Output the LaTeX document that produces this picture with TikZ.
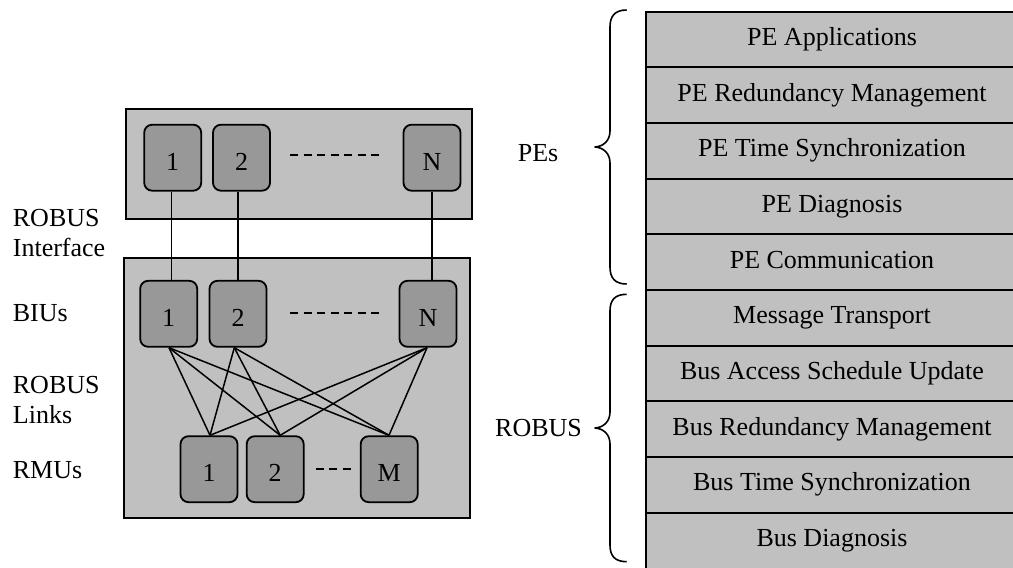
\documentclass[tikz,border=0pt]{standalone}
\usepackage{fontspec}
\setmainfont{Liberation Serif}
\definecolor{panel}{RGB}{192,192,192}
\definecolor{unit}{RGB}{152,152,152}
\begin{document}
\begin{tikzpicture}[x=1pt,y=-1pt,
  every node/.style={font=\fontsize{26}{30}\selectfont},
  panelbox/.style={draw=black,line width=2pt,fill=panel},
  unitbox/.style={draw=black,line width=1.8pt,fill=unit,rounded corners=8pt,
    minimum width=57pt,minimum height=66pt,inner sep=0pt,
    text height=24.6pt,text depth=0pt},
  link/.style={line width=1.5pt},
  gap/.style={line width=1.4pt,dash pattern=on 8pt off 5.5pt},
  layer/.style={draw=black,line width=2pt,fill=panel,minimum width=372pt,
    minimum height=55.7pt,inner sep=0pt,text height=18pt,text depth=6pt,anchor=north west},
  label/.style={inner sep=0pt,align=left},
  bracepath/.style={line width=1.6pt,line join=round}]
\useasboundingbox (0,0) rectangle (1013,568);

% processing element panel
\draw[panelbox] (126,109) rectangle (472,219.3);
\node[unitbox] (pe1) at (172.7,157.7) {1};
\node[unitbox] (pe2) at (241.5,157.7) {2};
\node[unitbox] (peN) at (432,157.7) {N};
\coordinate (peg1) at (290,155);
\coordinate (peg2) at (382,155);
\draw[gap] (peg1) -- (peg2);

% bus panel with interface units and redundancy management units
\draw[panelbox] (124,258.3) rectangle (470,518.3);
\node[unitbox] (biu1) at (168.7,313.8) {1};
\node[unitbox] (biu2) at (238,313.8) {2};
\node[unitbox] (biuN) at (428,313.8) {N};
\coordinate (bg1) at (290,313);
\coordinate (bg2) at (382,313);
\draw[gap] (bg1) -- (bg2);

\node[unitbox] (rmu1) at (209,469.2) {1};
\node[unitbox] (rmu2) at (275.2,469.2) {2};
\node[unitbox] (rmuM) at (389.2,469.2) {M};
\coordinate (rg1) at (315.7,469);
\coordinate (rg2) at (351,469);
\draw[gap] (rg1) -- (rg2);

% interface lines
\draw[link] ([xshift=-1pt]pe1.south) -- ([xshift=-1pt]pe1.south |- biu1.north);
\draw[link] ([xshift=-3.5pt]pe2.south) -- ([xshift=-3.5pt]pe2.south |- biu2.north);
\draw[link] (peN.south) -- (peN.south |- biuN.north);

% bus links between interface units and management units
\coordinate (b1) at ([xshift=0.3pt]biu1.south);
\coordinate (b2) at ([xshift=-3.7pt]biu2.south);
\coordinate (bN) at ([xshift=-1pt]biuN.south);
\coordinate (r1) at ([xshift=1pt]rmu1.north);
\coordinate (r2) at ([xshift=5pt]rmu2.north);
\coordinate (rM) at ([xshift=-0.2pt]rmuM.north);
\foreach \b in {b1,b2,bN}
  \foreach \r in {r1,r2,rM}
    \draw[link] (\b) -- (\r);

% left-hand labels
\node[label,anchor=north west] (lif) at (12.7,209) {ROBUS\\Interface};
\node[label,anchor=base west] (lbiu) at (12.7,321.7) {BIUs};
\node[label,anchor=north west] (llk) at (12.7,375.8) {ROBUS\\Links};
\node[label,anchor=base west] (lrmu) at (12.7,478.3) {RMUs};

% layered services
\node[layer] (l1) at (645,10.5) {PE Applications};
\node[layer] (l2) at (645,66.2) {PE Redundancy Management};
\node[layer] (l3) at (645,121.9) {PE Time Synchronization};
\node[layer] (l4) at (645,177.6) {PE Diagnosis};
\node[layer] (l5) at (645,233.3) {PE Communication};
\node[layer] (l6) at (645,289) {Message Transport};
\node[layer] (l7) at (645,344.7) {Bus Access Schedule Update};
\node[layer] (l8) at (645,400.4) {Bus Redundancy Management};
\node[layer] (l9) at (645,456.1) {Bus Time Synchronization};
\node[layer] (l10) at (645,511.8) {Bus Diagnosis};

% group braces and their labels
\draw[bracepath] (626.7,10) .. controls (615,10) and (610,16) .. (610,27)
  -- (610,131) .. controls (610,141) and (603,146.5) .. (595,147)
  .. controls (603,147.5) and (610,153) .. (610,163)
  -- (610,267) .. controls (610,278) and (615,284) .. (626.7,284);
\draw[bracepath] (626.7,294.3) .. controls (615,294.3) and (610,300) .. (610,311)
  -- (610,412) .. controls (610,422) and (603,427.5) .. (595,428)
  .. controls (603,428.5) and (610,434) .. (610,444)
  -- (610,545) .. controls (610,556) and (615,561.7) .. (626.7,561.7);
\node[label,anchor=base west] (lpe) at (517.7,161.7) {PEs};
\node[label,anchor=base west] (lrb) at (495,436.7) {ROBUS};
\end{tikzpicture}
\end{document}
